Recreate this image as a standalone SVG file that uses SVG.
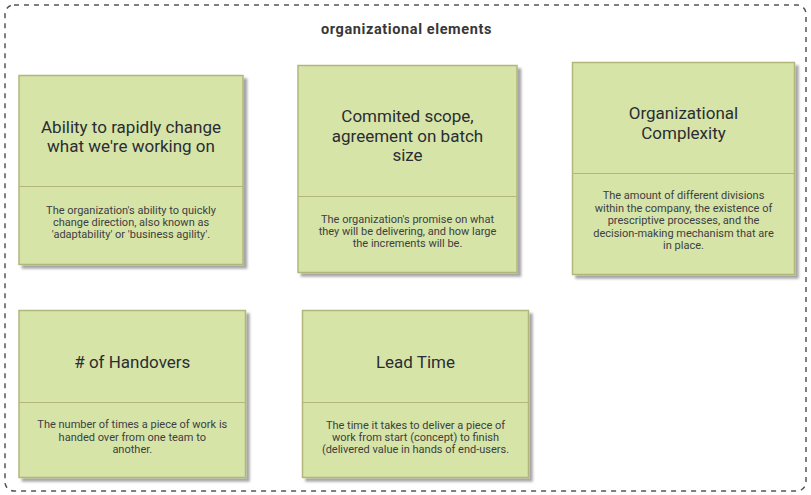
<svg xmlns="http://www.w3.org/2000/svg" width="811" height="495" viewBox="0 0 811 495">
<defs>
<filter id="sh" x="-10%" y="-10%" width="130%" height="130%">
<feDropShadow dx="3.5" dy="3.5" stdDeviation="1.2" flood-color="#000" flood-opacity="0.35"/>
</filter>
<style>
.card{fill:#d6e4a8;stroke:#b3b67a;stroke-width:1.5;filter:url(#sh)}
.div{stroke:#b3b67a;stroke-width:1}
.t{font-family:Roboto,"Liberation Sans",sans-serif;font-size:17px;fill:#2a2d33;text-anchor:middle}
.d{font-family:Roboto,"Liberation Sans",sans-serif;font-size:11px;fill:#3d4042;text-anchor:middle}
.h{font-family:Roboto,"Liberation Sans",sans-serif;font-size:14.5px;letter-spacing:0.6px;font-weight:bold;fill:#383838;text-anchor:middle}
</style>
</defs>
<rect x="5" y="5" width="801" height="486" rx="9" fill="#fff" stroke="#555" stroke-width="1.5" stroke-dasharray="5,5"/>
<text class="h" x="406.5" y="34">organizational elements</text>
<g id="connectors"></g>
<g id="ability">
<rect class="card" x="19" y="75.5" width="224" height="189"/>
<line class="div" x1="19" y1="186.5" x2="243" y2="186.5"/>
<text class="t" x="131" y="132.5">Ability to rapidly change</text>
<text class="t" x="131" y="152">what we're working on</text>
<text class="d" x="131" y="213.5">The organization's ability to quickly</text>
<text class="d" x="131" y="225.8">change direction, also known as</text>
<text class="d" x="131" y="238">'adaptability' or 'business agility'.</text>
</g>
<g id="scope">
<rect class="card" x="298" y="65.5" width="219" height="207"/>
<line class="div" x1="298" y1="196.5" x2="517" y2="196.5"/>
<text class="t" x="407.5" y="122">Commited scope,</text>
<text class="t" x="407.5" y="141.5">agreement on batch</text>
<text class="t" x="407.5" y="161">size</text>
<text class="d" x="407.5" y="222.5">The organization's promise on what</text>
<text class="d" x="407.5" y="234.8">they will be delivering, and how large</text>
<text class="d" x="407.5" y="247">the increments will be.</text>
</g>
<g id="complexity">
<rect class="card" x="572.5" y="62.5" width="222" height="212"/>
<line class="div" x1="572.5" y1="173.5" x2="794.5" y2="173.5"/>
<text class="t" x="683.5" y="119">Organizational</text>
<text class="t" x="683.5" y="138.5">Complexity</text>
<text class="d" x="683.5" y="199">The amount of different divisions</text>
<text class="d" x="683.5" y="211.5">within the company, the existence of</text>
<text class="d" x="683.5" y="224">prescriptive processes, and the</text>
<text class="d" x="683.5" y="236.5">decision-making mechanism that are</text>
<text class="d" x="683.5" y="249">in place.</text>
</g>
<g id="handovers">
<rect class="card" x="19" y="310.5" width="226.5" height="167"/>
<line class="div" x1="19" y1="402.5" x2="245.5" y2="402.5"/>
<text class="t" x="132.3" y="368"># of Handovers</text>
<text class="d" x="132.3" y="428">The number of times a piece of work is</text>
<text class="d" x="132.3" y="440.5">handed over from one team to</text>
<text class="d" x="132.3" y="453">another.</text>
</g>
<g id="leadtime">
<rect class="card" x="302.5" y="310.5" width="226" height="167"/>
<line class="div" x1="302.5" y1="402.5" x2="528.5" y2="402.5"/>
<text class="t" x="415.5" y="368">Lead Time</text>
<text class="d" x="415.5" y="429">The time it takes to deliver a piece of</text>
<text class="d" x="415.5" y="441">work from start (concept) to finish</text>
<text class="d" x="415.5" y="453">(delivered value in hands of end-users.</text>
</g>
</svg>
